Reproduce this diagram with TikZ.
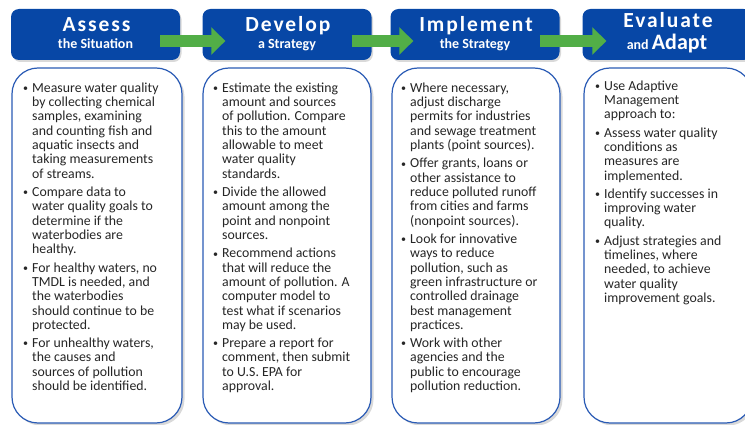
\documentclass[tikz,border=0pt]{standalone}
\usepackage{fontspec}
\setmainfont{Carlito}
\usetikzlibrary{calc,arrows.meta,shadows}
\definecolor{hdrblue}{HTML}{0747A6}
\definecolor{boxblue}{HTML}{2A5BB5}
\definecolor{arrgreen}{HTML}{52AE47}
\newcommand\bul{\makebox[9pt][l]{\raisebox{0.6pt}{\fontsize{10}{10}\selectfont\textbullet}}}
\newcommand\ind{\hspace*{9pt}}
\begin{document}
\begin{tikzpicture}[x=1pt,y=-1pt,
  hdr/.style={fill=hdrblue, rounded corners=8pt, minimum width=169pt, minimum height=51pt, inner sep=0pt,
    drop shadow={shadow xshift=1.5pt, shadow yshift=-2pt, opacity=0.3}},
  cbox/.style={draw=boxblue, line width=1.2pt, fill=white, rounded corners=26pt, minimum height=355pt, inner sep=0pt,
    drop shadow={shadow xshift=2.5pt, shadow yshift=-2.5pt, opacity=0.3}},
  ttl/.style={anchor=base, text=white, inner sep=0pt, font=\fontsize{21.5}{21.5}\selectfont\bfseries\addfontfeatures{LetterSpace=9}},
  sub/.style={anchor=base, text=white, inner sep=0pt, font=\fontsize{14}{14}\selectfont\bfseries},
  body/.style={anchor=north west, align=left, inner sep=0pt, text=black!85, font=\fontsize{13.8}{14.35}\selectfont},
  flow/.style={arrgreen, line width=12pt, -{Triangle[length=14pt, width=27pt]}}]
\useasboundingbox (0,0) rectangle (745,425);
% header boxes
\node[hdr] (h1) at (95.5,34.5) {};
\node[hdr] (h2) at (287,34.5) {};
\node[hdr] (h3) at (475,34.5) {};
\node[hdr] (h4) at (667,34.5) {};
% titles
\node[ttl] (t1) at (96.5,31.7) {Assess};
\node[sub] (s1) at (95.5,48.5) {the Situation};
\node[ttl] (t2) at (288,31.7) {Develop};
\node[sub] (s2) at (287,48.5) {a Strategy};
\node[ttl] (t3) at (476,31.7) {Implement};
\node[sub] (s3) at (475,48.5) {the Strategy};
\node[ttl] (t4) at (668,27.5) {Evaluate};
\node[sub] (s4) at (667,50) {and {\fontsize{22}{22}\selectfont Adapt}};
% content boxes
\node[cbox, minimum width=170pt] (c1) at (97,245.5) {};
\node[cbox, minimum width=168pt] (c2) at (287,245.5) {};
\node[cbox, minimum width=168pt] (c3) at (476,245.5) {};
\node[cbox, minimum width=168pt] (c4) at (668,245.5) {};
% arrows
\draw[flow] ($(h1.east)+(-20,6.5)$) -- ($(h2.west)+(23,6.5)$);
\draw[flow] ($(h2.east)+(-20,6.5)$) -- ($(h3.west)+(23,6.5)$);
\draw[flow] ($(h3.east)+(-20,6.5)$) -- ($(h4.west)+(24,6.5)$);
% texts
\node[body] (b1) at (23,82) {\strut\bul Measure water quality\\ \ind by collecting chemical\\ \ind samples, examining\\ \ind and counting fish and\\ \ind aquatic insects and\\ \ind taking measurements\\ \ind of streams.\\[3.8pt]
\bul Compare data to\\ \ind water quality goals to\\ \ind determine if the\\ \ind waterbodies are\\ \ind healthy.\\[3.8pt]
\bul For healthy waters, no\\ \ind TMDL is needed, and\\ \ind the waterbodies\\ \ind should continue to be\\ \ind protected.\\[3.8pt]
\bul For unhealthy waters,\\ \ind the causes and\\ \ind sources of pollution\\ \ind should be identified.};
\node[body] (b2) at (213,82) {\strut\bul Estimate the existing\\ \ind amount and sources\\ \ind of pollution. Compare\\ \ind this to the amount\\ \ind allowable to meet\\ \ind water quality\\ \ind standards.\\[3.8pt]
\bul Divide the allowed\\ \ind amount among the\\ \ind point and nonpoint\\ \ind sources.\\[3.8pt]
\bul Recommend actions\\ \ind that will reduce the\\ \ind amount of pollution. A\\ \ind computer model to\\ \ind test what if scenarios\\ \ind may be used.\\[3.8pt]
\bul Prepare a report for\\ \ind comment, then submit\\ \ind to U.S. EPA for\\ \ind approval.};
\node[body] (b3) at (401,82) {\strut\bul Where necessary,\\ \ind adjust discharge\\ \ind permits for industries\\ \ind and sewage treatment\\ \ind plants (point sources).\\[3.8pt]
\bul Offer grants, loans or\\ \ind other assistance to\\ \ind reduce polluted runoff\\ \ind from cities and farms\\ \ind (nonpoint sources).\\[3.8pt]
\bul Look for innovative\\ \ind ways to reduce\\ \ind pollution, such as\\ \ind green infrastructure or\\ \ind controlled drainage\\ \ind best management\\ \ind practices.\\[3.8pt]
\bul Work with other\\ \ind agencies and the\\ \ind public to encourage\\ \ind pollution reduction.};
\node[body] (b4) at (595,80) {\strut\bul Use Adaptive\\ \ind Management\\ \ind approach to:\\[3.8pt]
\bul Assess water quality\\ \ind conditions as\\ \ind measures are\\ \ind implemented.\\[3.8pt]
\bul Identify successes in\\ \ind improving water\\ \ind quality.\\[3.8pt]
\bul Adjust strategies and\\ \ind timelines, where\\ \ind needed, to achieve\\ \ind water quality\\ \ind improvement goals.};
\end{tikzpicture}
\end{document}
